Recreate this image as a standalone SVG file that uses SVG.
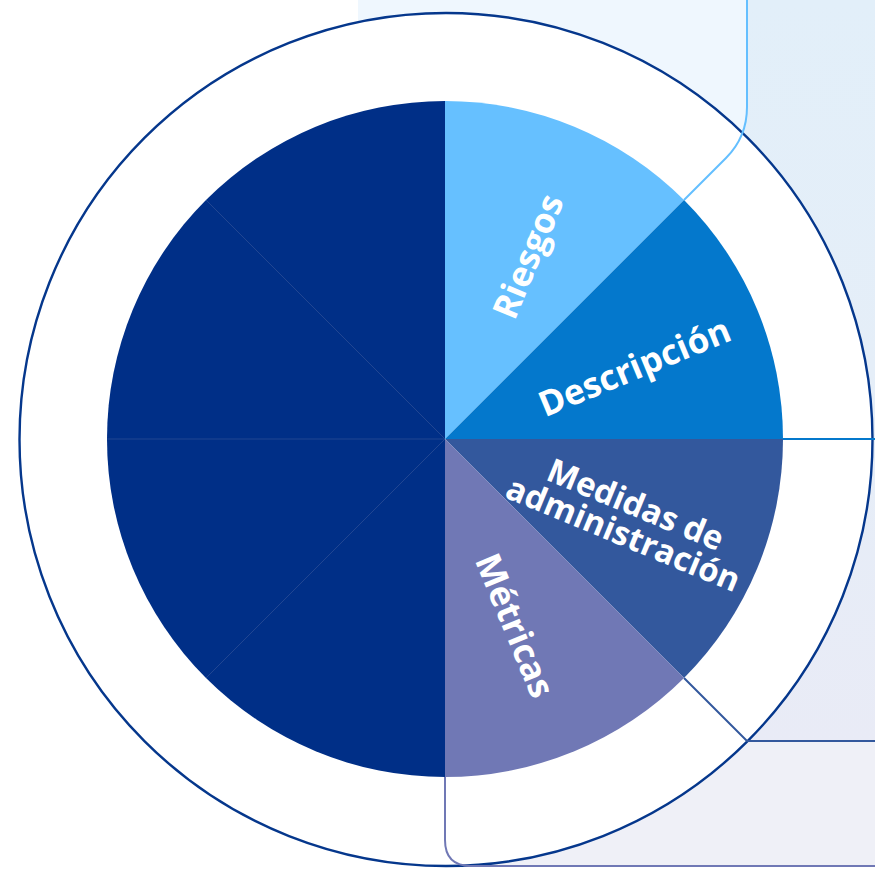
<svg xmlns="http://www.w3.org/2000/svg" width="875" height="870" viewBox="0 0 875 870">
  <defs>
    <linearGradient id="rightGrad" x1="0" y1="0" x2="0" y2="1">
      <stop offset="0" stop-color="#E2EFF9"/>
      <stop offset="0.5" stop-color="#E5EEF8"/>
      <stop offset="1" stop-color="#E9EBF6"/>
    </linearGradient>
  </defs>
  <style>
    .lbl { font-family: "Open Sans", "Noto Sans", "Liberation Sans", sans-serif; font-weight: 700; font-size: 35px; fill: #FFFFFF; text-anchor: middle; dominant-baseline: central; }
    .conn { fill: none; stroke-width: 2; }
    .sep { stroke: #2A4C96; stroke-width: 0.8; }
  </style>
  <rect x="0" y="0" width="875" height="870" fill="#FFFFFF"/>
  <g id="backgrounds">
    <rect x="700" y="0" width="175" height="741" fill="url(#rightGrad)"/>
    <path d="M358,0 H747 V107 Q747,137 726,158 L684,200 H358 Z" fill="#EFF7FE"/>
    <path d="M445,741 H875 V866 H471 Q445,866 445,840 Z" fill="#EFF0F7"/>
  </g>
  <circle id="outer-ring" cx="446" cy="439.5" r="426.5" fill="#FFFFFF" stroke="#05378C" stroke-width="2.4"/>
  <g id="connectors">
    <path class="conn" d="M747,0 V107 Q747,137 726,158 L684,200" stroke="#64BFFF" stroke-width="1.6"/>
    <path class="conn" d="M783,439 H875" stroke="#0478CC"/>
    <path class="conn" d="M684,678 L747,741 H875" stroke="#33589D"/>
    <path class="conn" d="M445,777 V840 Q445,866 471,866 H875" stroke="#7078B5"/>
  </g>
  <g id="dark-sectors">
    <path d="M445,439 L445,777 A338,338 0 0 1 445,101 Z" fill="#002F87"/>
    <line class="sep" x1="445" y1="439" x2="206" y2="200"/>
    <line class="sep" x1="445" y1="439" x2="107" y2="439"/>
    <line class="sep" x1="445" y1="439" x2="206" y2="678"/>
  </g>
  <g id="riesgos">
    <path d="M445,439 L445,101 A338,338 0 0 1 684,200 Z" fill="#66C0FF"/>
    <text class="lbl" transform="translate(527,256) rotate(-67.5)">Riesgos</text>
  </g>
  <g id="descripcion">
    <path d="M445,439 L684,200 A338,338 0 0 1 783,439 Z" fill="#0478CC"/>
    <text class="lbl" transform="translate(634,366) rotate(-22.5)">Descripción</text>
  </g>
  <g id="medidas">
    <path d="M445,439 L783,439 A338,338 0 0 1 684,678 Z" fill="#33589D"/>
    <text class="lbl" style="font-size:33px" transform="translate(630,518) rotate(22.5)"><tspan x="0" y="-16">Medidas de</tspan><tspan x="0" y="16">administración</tspan></text>
  </g>
  <g id="metricas">
    <path d="M445,439 L684,678 A338,338 0 0 1 445,777 Z" fill="#7078B5"/>
    <text class="lbl" transform="translate(516,625) rotate(67.5)">Métricas</text>
  </g>
</svg>
